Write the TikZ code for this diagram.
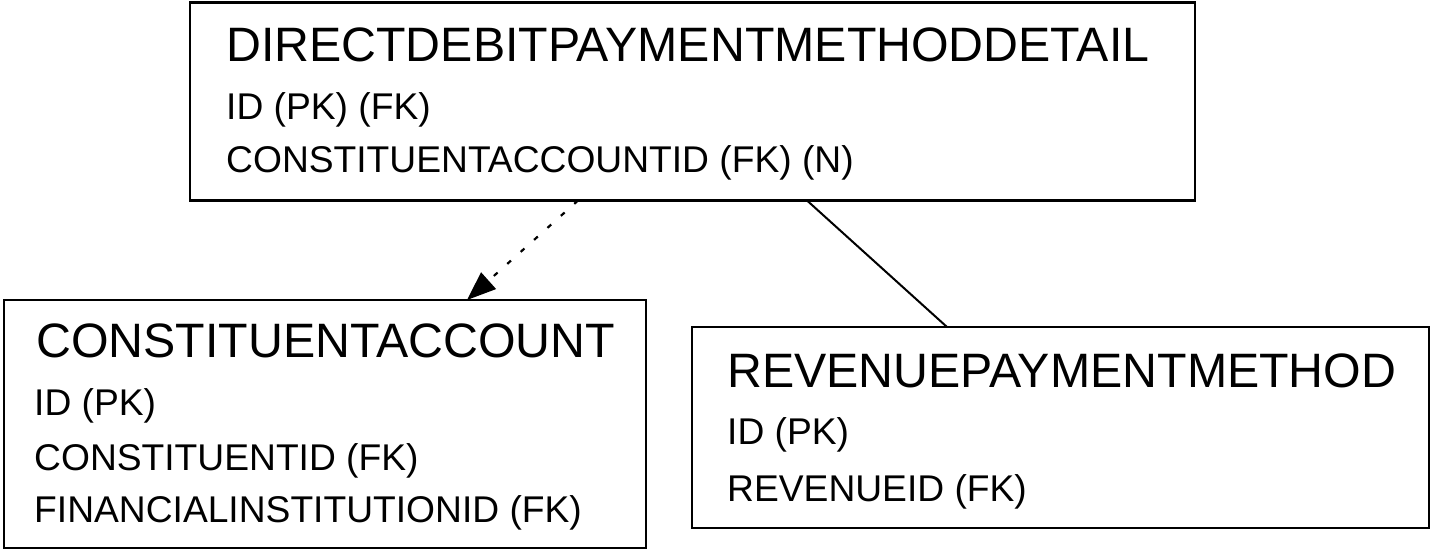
\documentclass[tikz,border=0pt]{standalone}
\usepackage{fontspec}
\setmainfont{Liberation Sans}
\usetikzlibrary{arrows.meta}
\tikzset{
  entity/.style={draw=black, line width=2.5pt, inner sep=0pt, outer sep=0pt, fill=white},
  title/.style={anchor=base west, inner sep=0pt, font=\fontsize{48.3}{50}\selectfont},
  attr/.style={anchor=base west, inner sep=0pt, font=\fontsize{37.2}{40}\selectfont},
  fklink/.style={line width=2.2pt, dash pattern=on 5pt off 13pt, -{Triangle[length=29pt,width=22pt]}},
  rellink/.style={line width=2pt}
}
\begin{document}
\begin{tikzpicture}[x=1pt,y=-1pt]
\useasboundingbox[fill=white] (0,0) rectangle (1431,554);
% boxes
\node[entity, minimum width=1005pt, minimum height=198pt] (dd) at (692.5,101.5) {};
\node[entity, minimum width=642pt, minimum height=248pt] (ca) at (325,424) {};
\node[entity, minimum width=737pt, minimum height=201pt] (rp) at (1060.5,427.5) {};
% texts
\node[title] (ddt) at (226,61) {DIRECTDEBITPAYMENTMETHODDETAIL};
\node[attr] (dd1) at (226,119) {ID (PK) (FK)};
\node[attr] (dd2) at (226,172) {CONSTITUENTACCOUNTID (FK) (N)};
\node[title] (cat) at (36,357) {CONSTITUENTACCOUNT};
\node[attr] (ca1) at (34,415) {ID (PK)};
\node[attr] (ca2) at (34,470) {CONSTITUENTID (FK)};
\node[attr] (ca3) at (34,522) {FINANCIALINSTITUTIONID (FK)};
\node[title] (rpt) at (727,387) {REVENUEPAYMENTMETHOD};
\node[attr] (rp1) at (727,444) {ID (PK)};
\node[attr] (rp2) at (727,501) {REVENUEID (FK)};
% connectors
\draw[fklink] ([xshift=388pt]dd.south west) -- ([xshift=463pt]ca.north west);
\draw[rellink] ([xshift=617pt]dd.south west) -- ([xshift=255pt]rp.north west);
\end{tikzpicture}
\end{document}
